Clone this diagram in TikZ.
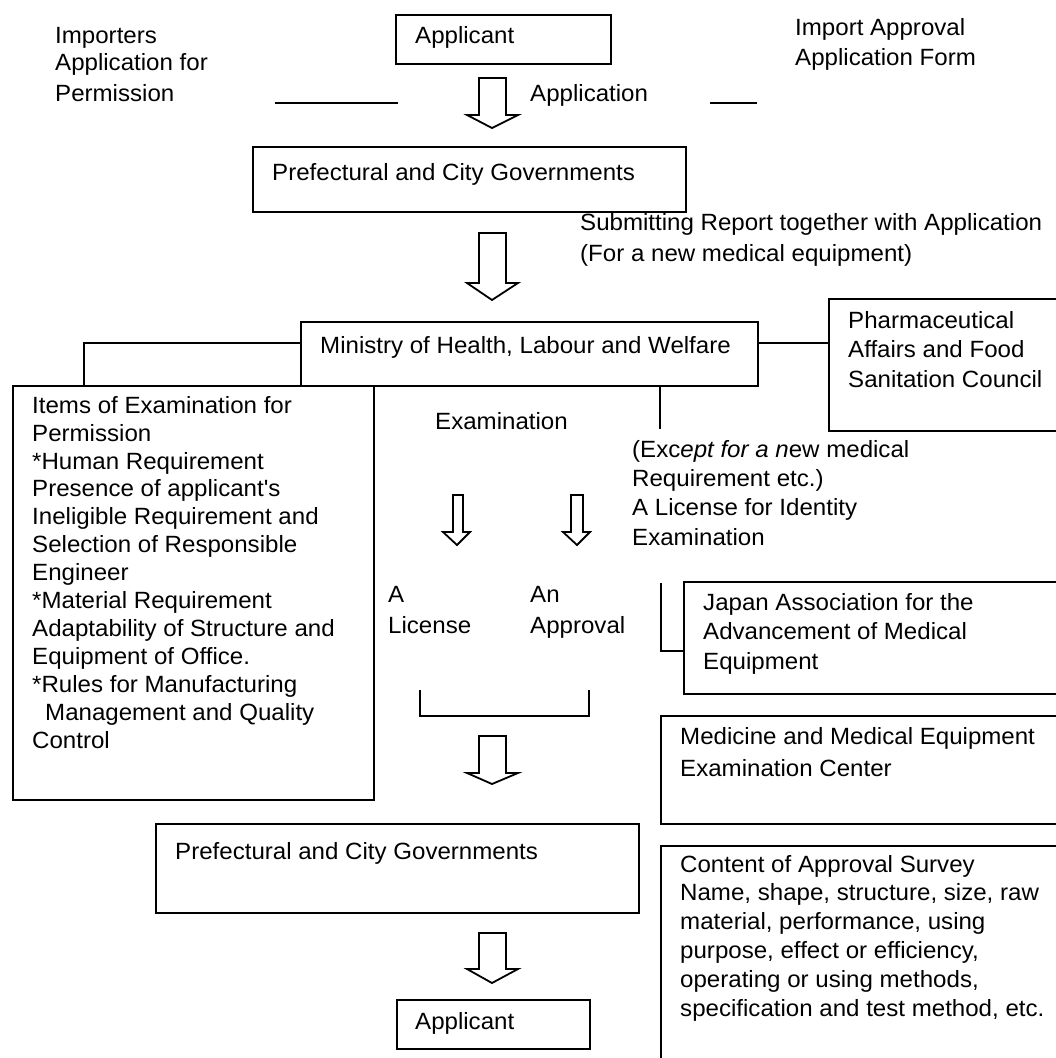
\documentclass[tikz,border=0pt]{standalone}
\usepackage{fontspec}
\setmainfont{Liberation Sans}[FakeStretch=1.025, Ligatures=TeXOff]
\begin{document}
\begin{tikzpicture}[x=1pt,y=-1pt,
  box/.style={draw, line width=2.4pt, rectangle, inner sep=0pt, anchor=north west},
  % multi-line texts are placed by the baseline of their last line
  txt/.style={anchor=base west, inner sep=0pt, align=left, font=\fontsize{23.5}{27.9}\selectfont},
  lines/.style={font=\fontsize{23.5}{#1}\selectfont},
  link/.style={line width=2.4pt},
  blockarrow/.style={draw, line width=1.8pt, fill=white, line join=miter}]
\clip (0,0) rectangle (1056,1058);
\fill[white] (0,0) rectangle (1056,1058);

% boxes
\node[box, minimum width=215pt, minimum height=49pt]  (app1)     at (395,14)  {};
\node[box, minimum width=433pt, minimum height=65pt]  (pref1)    at (252,146) {};
\node[box, minimum width=457pt, minimum height=64pt]  (ministry) at (300,321) {};
\node[box, minimum width=260pt, minimum height=132pt] (pharma)   at (828,298) {};
\node[box, minimum width=361pt, minimum height=414pt] (items)    at (12,385)  {};
\node[box, minimum width=400pt, minimum height=112pt] (japan)    at (683,581) {};
\node[box, minimum width=420pt, minimum height=108pt] (medicine) at (660,715) {};
\node[box, minimum width=420pt, minimum height=250pt] (content)  at (660,845) {};
\node[box, minimum width=483pt, minimum height=89pt]  (pref2)    at (155,823) {};
\node[box, minimum width=193pt, minimum height=49pt]  (app2)     at (396,999) {};

% free ends of connectors
\coordinate (lineAa) at (275,103);
\coordinate (lineAb) at (398,103);
\coordinate (lineBa) at (710,103);
\coordinate (lineBb) at (757,103);
\coordinate (exbranch) at (660,429);
\coordinate (jtop) at (661,583);
\coordinate (brL) at (420,690);
\coordinate (brR) at (589,690);

% connectors
\draw[link] (lineAa) -- (lineAb);
\draw[link] (lineBa) -- (lineBb);
\draw[link] ([yshift=11pt]ministry.west) -| ([xshift=72pt]items.north west);
\draw[link] ([yshift=11pt]ministry.east) -- ([yshift=11pt]ministry.east -| pharma.west);
\draw[link] (ministry.south -| exbranch) -- (exbranch);
\draw[link] (jtop) |- ([yshift=-13pt]japan.west);
\draw[link] (brL) -- ++(0,26) -| (brR);

% block arrows
\draw[blockarrow] (479,78)  -- ++(27,0) -- ++(0,37) -- ++(12,0) -- ++(-26,13) -- ++(-25,-13) -- ++(12,0) -- cycle;
\draw[blockarrow] (479,233) -- ++(27,0) -- ++(0,50) -- ++(12,0) -- ++(-26,17) -- ++(-25,-17) -- ++(12,0) -- cycle;
\draw[blockarrow] (479,736) -- ++(27,0) -- ++(0,37) -- ++(12,0) -- ++(-26,11) -- ++(-25,-11) -- ++(12,0) -- cycle;
\draw[blockarrow] (479,933) -- ++(27,0) -- ++(0,36) -- ++(12,0) -- ++(-26,14) -- ++(-25,-14) -- ++(12,0) -- cycle;
\draw[blockarrow] (453,495) -- ++(10,0) -- ++(0,37) -- ++(7,0) -- ++(-13,13) -- ++(-14,-13) -- ++(10,0) -- cycle;
\draw[blockarrow] (571,495) -- ++(12,0) -- ++(0,37) -- ++(7,0) -- ++(-13,13) -- ++(-14,-13) -- ++(8,0) -- cycle;

% texts
\node[txt] (imp1) at (55,43)  {Importers};
\node[txt] (imp2) at (55,70)  {Application for};
\node[txt] (imp3) at (55,101) {Permission};
\node[txt, lines=30] (form) at (795,65) {Import Approval\\Application Form};
\node[txt] (app1t) at (415,43) {Applicant};
\node[txt] (applic) at (530,101) {Application};
\node[txt] (pref1t) at (272,180) {Prefectural and City Governments};
\node[txt, lines=31] (submit) at (580,261) {Submitting Report together with Application\\(For a new medical equipment)};
\node[txt] (ministryt) at (320,353) {Ministry of Health, Labour and Welfare};
\node[txt, lines=29.5] (pharmat) at (848,387) {Pharmaceutical\\Affairs and Food\\Sanitation Council};
\node[txt] (itemst) at (32,748) {Items of Examination for\\Permission\\*Human Requirement\\Presence of applicant's\\Ineligible Requirement and\\Selection of Responsible\\Engineer\\*Material Requirement\\Adaptability of Structure and\\Equipment of Office.\\*Rules for Manufacturing\\\hspace*{13pt}Management and Quality\\Control};
\node[txt] (exam) at (435,429) {Examination};
\node[txt, lines=29.3] (except) at (632,545) {(Exc{\itshape ept for a n}ew medical\\Requirement etc.)\\A License for Identity\\Examination};
\node[txt, lines=31] (license) at (388,633) {A\\License};
\node[txt, lines=31] (approval) at (530,633) {An\\Approval};
\node[txt, lines=29.5] (japant) at (703,669) {Japan Association for the\\Advancement of Medical\\Equipment};
\node[txt, lines=32] (medicinet) at (680,776) {Medicine and Medical Equipment\\Examination Center};
\node[txt, lines=28.8] (contentt) at (680,1016) {Content of Approval Survey\\Name, shape, structure, size, raw\\material, performance, using\\purpose, effect or efficiency,\\operating or using methods,\\specification and test method, etc.};
\node[txt] (pref2t) at (175,859) {Prefectural and City Governments};
\node[txt] (app2t) at (415,1029) {Applicant};
\end{tikzpicture}
\end{document}
